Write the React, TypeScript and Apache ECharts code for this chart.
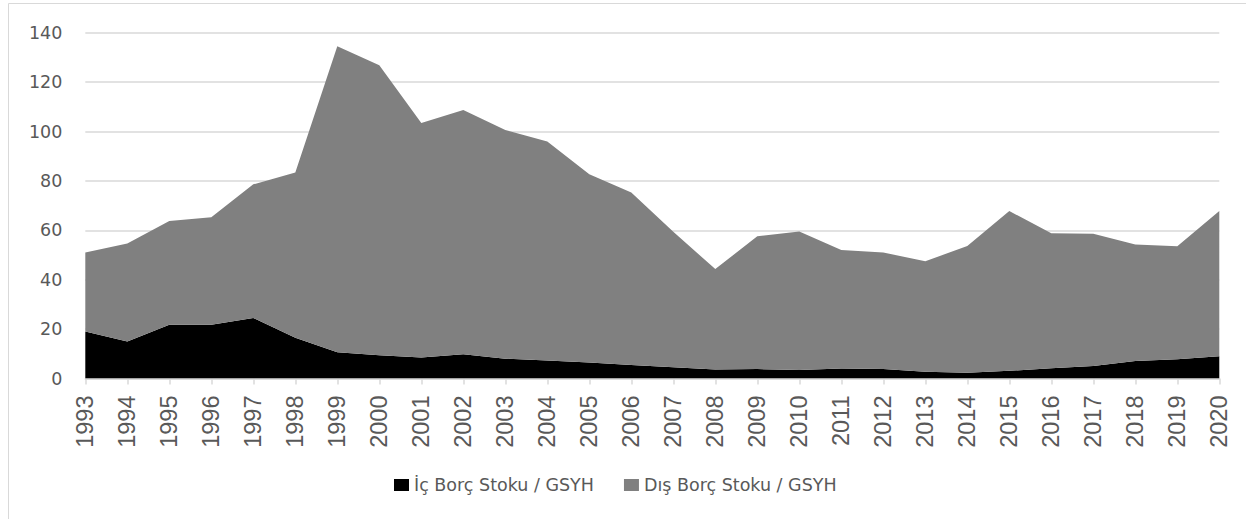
import React, { useEffect, useRef } from "react";
import * as echarts from "echarts";

const years = ["1993","1994","1995","1996","1997","1998","1999","2000","2001","2002","2003","2004","2005","2006","2007","2008","2009","2010","2011","2012","2013","2014","2015","2016","2017","2018","2019","2020"];
const icBorc = [19.0, 15.0, 21.8, 21.8, 24.5, 16.5, 10.6, 9.4, 8.5, 9.8, 8.0, 7.3, 6.5, 5.5, 4.6, 3.6, 3.8, 3.4, 4.0, 3.8, 2.7, 2.3, 3.1, 4.2, 5.1, 7.1, 7.8, 9.0];
const disBorc = [32.0, 39.7, 42.0, 43.5, 54.1, 66.9, 123.9, 117.4, 94.9, 98.9, 92.6, 88.7, 76.2, 69.8, 54.8, 40.7, 53.8, 56.1, 48.0, 47.2, 44.8, 51.3, 64.7, 54.6, 53.5, 47.2, 45.7, 58.8];
const seriesNames = ["İç Borç Stoku / GSYH", "Dış Borç Stoku / GSYH"];
const yTicks = { min: 0, max: 140, interval: 20 };

export default function App() {
  const ref = useRef<HTMLDivElement>(null);
  useEffect(() => {
    document.body.style.margin = "0";
    if (!ref.current) return;
    const chart = echarts.init(ref.current, null, { renderer: "svg" });
    chart.setOption({
      animation: false,
      backgroundColor: "#ffffff",
      grid: { left: 85.3, top: 32.7, width: 1134, height: 345.8 },
      graphic: [
        {
          type: "rect",
          shape: { x: 8.5, y: 3.5, width: 1260, height: 540 },
          style: { fill: "none", stroke: "#d9d9d9", lineWidth: 1 },
          silent: true,
        },
      ],
      legend: {
        data: seriesNames,
        left: 389,
        top: 471,
        icon: "rect",
        itemWidth: 15,
        itemHeight: 12,
        itemGap: 30,
        textStyle: { fontFamily: "DejaVu Sans", fontSize: 17.5, color: "#595959" },
      },
      xAxis: {
        type: "category",
        data: years,
        boundaryGap: false,
        axisLine: { show: true, lineStyle: { color: "#d9d9d9", width: 1.5 } },
        axisTick: { show: true, length: 6, lineStyle: { color: "#d9d9d9", width: 1.5 } },
        axisLabel: {
          rotate: 90,
          margin: 17,
          fontFamily: "Liberation Sans Narrow, Liberation Sans, sans-serif",
          fontSize: 23.5,
          color: "#595959",
        },
        splitLine: { show: false },
      },
      yAxis: {
        type: "value",
        min: yTicks.min,
        max: yTicks.max,
        interval: yTicks.interval,
        axisLine: { show: false },
        axisTick: { show: false },
        axisLabel: { margin: 23, fontFamily: "DejaVu Sans", fontSize: 17.5, color: "#595959" },
        splitLine: { lineStyle: { color: "#d9d9d9", width: 1.5 } },
      },
      series: [
        {
          name: seriesNames[0],
          type: "line",
          stack: "total",
          data: icBorc,
          symbol: "none",
          lineStyle: { width: 0 },
          itemStyle: { color: "#000000" },
          areaStyle: { color: "#000000", opacity: 1 },
        },
        {
          name: seriesNames[1],
          type: "line",
          stack: "total",
          data: disBorc,
          symbol: "none",
          lineStyle: { width: 0 },
          itemStyle: { color: "#808080" },
          areaStyle: { color: "#808080", opacity: 1 },
        },
      ],
    });
    return () => chart.dispose();
  }, []);
  return <div ref={ref} style={{ width: 1246, height: 519 }} />;
}
